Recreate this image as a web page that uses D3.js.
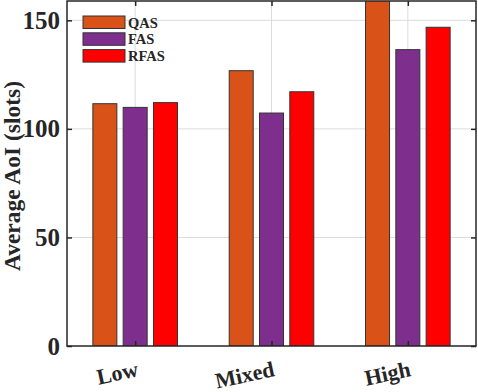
<!DOCTYPE html>
<html>
<head>
<meta charset="utf-8">
<script src="https://cdn.jsdelivr.net/npm/d3@7"></script>
<style>
  body { margin: 0; background: #fff; }
  svg { display: block; }
</style>
</head>
<body>
<svg id="chart" width="478" height="392"></svg>
<script>
// data
const categories = ['Low', 'Mixed', 'High'];
const seriesNames = ['QAS', 'FAS', 'RFAS'];
const qas = [111.6, 126.8, 163];
const fas = [109.9, 107.3, 136.5];
const rfas = [112.1, 117.1, 146.8];
const yTicks = [0, 50, 100, 150];

const colors = ['#D95319', '#7E2F8E', '#FF0000'];
const series = [qas, fas, rfas];

const width = 478, height = 392;
const margin = {top: 1, right: 2, bottom: 46, left: 67};
const font = '"Liberation Serif", "Times New Roman", serif';
const ink = '#262626';

const svg = d3.select('#chart');

const x = d3.scaleLinear()
  .domain([0.5, 3.5])
  .range([margin.left, width - margin.right]);

const y = d3.scaleLinear()
  .domain([0, 158.9])
  .range([height - margin.bottom, margin.top]);

const offset = 30.3 / (x(2) - x(1));   // group spacing in data units
const barW = 24;

// clip so the tall bar stops at the top edge
svg.append('defs').append('clipPath').attr('id', 'plotclip')
  .append('rect')
  .attr('x', margin.left).attr('y', margin.top)
  .attr('width', width - margin.right - margin.left)
  .attr('height', height - margin.bottom - margin.top);

// grid
const grid = svg.append('g').attr('stroke', '#dcdcdc').attr('stroke-width', 1);
grid.selectAll('.gy').data(yTicks.slice(1)).join('line')
  .attr('x1', margin.left).attr('x2', width - margin.right)
  .attr('y1', d => y(d)).attr('y2', d => y(d));
grid.selectAll('.gx').data(d3.range(1, categories.length + 1)).join('line')
  .attr('x1', d => x(d)).attr('x2', d => x(d))
  .attr('y1', margin.top).attr('y2', height - margin.bottom);

// bars
const bars = svg.append('g').attr('clip-path', 'url(#plotclip)');
series.forEach((vals, s) => {
  bars.selectAll('.b' + s).data(vals).join('rect')
    .attr('x', (d, i) => x(i + 1 + (s - 1) * offset) - barW / 2)
    .attr('y', d => y(d))
    .attr('width', barW)
    .attr('height', d => y(0) - y(d))
    .attr('fill', colors[s])
    .attr('stroke', '#333')
    .attr('stroke-width', 1);
});

// axes box
const axisG = svg.append('g');
axisG.append('rect')
  .attr('x', margin.left).attr('y', margin.top)
  .attr('width', width - margin.right - margin.left)
  .attr('height', height - margin.bottom - margin.top)
  .attr('fill', 'none').attr('stroke', ink).attr('stroke-width', 1.5);

const yAxis = d3.axisLeft(y).tickValues(yTicks).tickSize(-5).tickPadding(7).tickSizeOuter(0);
axisG.append('g')
  .attr('transform', `translate(${margin.left},0)`)
  .call(yAxis)
  .call(g => g.select('.domain').remove())
  .call(g => g.selectAll('line').attr('stroke', ink).attr('stroke-width', 1.5))
  .call(g => g.selectAll('text')
    .attr('font-family', font).attr('font-weight', 'bold')
    .attr('font-size', 25).attr('fill', ink));

// right-side ticks
axisG.append('g')
  .attr('transform', `translate(${width - margin.right},0)`)
  .call(d3.axisRight(y).tickValues(yTicks).tickSize(-5).tickFormat(''))
  .call(g => g.select('.domain').remove())
  .call(g => g.selectAll('line').attr('stroke', ink).attr('stroke-width', 1.5));

// bottom ticks
axisG.append('g')
  .attr('transform', `translate(0,${height - margin.bottom})`)
  .call(d3.axisBottom(x).tickValues([1, 2, 3]).tickSize(-5).tickFormat(''))
  .call(g => g.select('.domain').remove())
  .call(g => g.selectAll('line').attr('stroke', ink).attr('stroke-width', 1.5));

// top ticks
axisG.append('g')
  .attr('transform', `translate(0,${margin.top})`)
  .call(d3.axisTop(x).tickValues([1, 2, 3]).tickSize(-5).tickFormat(''))
  .call(g => g.select('.domain').remove())
  .call(g => g.selectAll('line').attr('stroke', ink).attr('stroke-width', 1.5));

// rotated category labels
svg.append('g').selectAll('text').data(categories).join('text')
  .attr('transform', (d, i) => `translate(${x(i + 1) + 4},${height - margin.bottom + 30}) rotate(-12)`)
  .attr('text-anchor', 'end')
  .attr('font-family', font).attr('font-weight', 'bold')
  .attr('font-size', 22).attr('fill', ink)
  .text(d => d);

// y label
svg.append('text')
  .attr('transform', `translate(20,176) rotate(-90)`)
  .attr('text-anchor', 'middle')
  .attr('font-family', font).attr('font-weight', 'bold')
  .attr('font-size', 23.5).attr('fill', ink)
  .text('Average AoI (slots)');

// legend
const legend = svg.append('g').attr('transform', 'translate(83,16)');
seriesNames.forEach((name, i) => {
  legend.append('rect')
    .attr('x', 0).attr('y', i * 16.8)
    .attr('width', 42).attr('height', 12.5)
    .attr('fill', colors[i]).attr('stroke', '#333').attr('stroke-width', 1);
  legend.append('text')
    .attr('x', 45).attr('y', i * 16.8 + 11.5)
    .attr('font-family', font).attr('font-weight', 'bold')
    .attr('font-size', 14.5).attr('fill', ink)
    .text(name);
});
</script>
</body>
</html>
